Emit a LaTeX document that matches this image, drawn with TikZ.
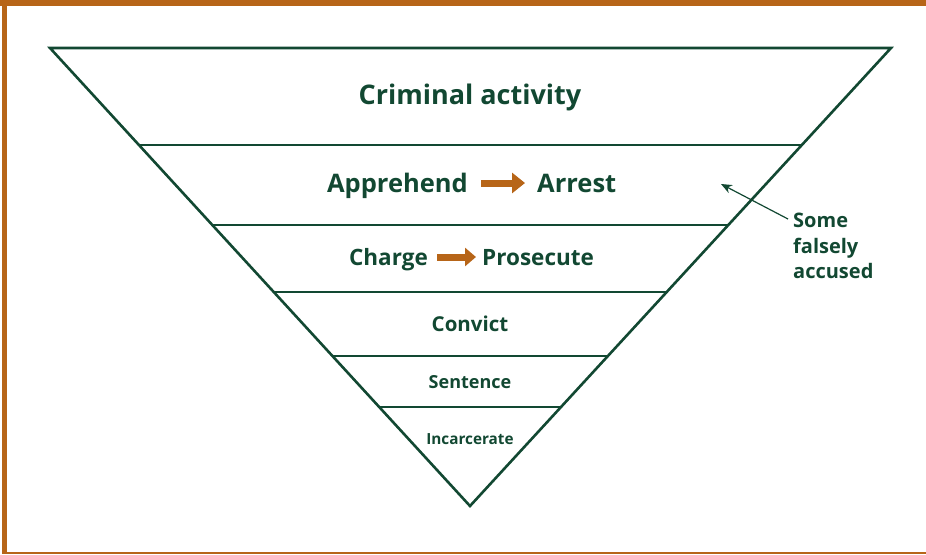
\documentclass[tikz,border=0pt]{standalone}
\usepackage{fontspec}
\setmainfont{Open Sans}
\usepackage{tikz}
\usetikzlibrary{arrows.meta, calc}

\definecolor{funnelgreen}{RGB}{18,72,50}
\definecolor{rustorange}{RGB}{183,101,24}

\tikzset{
  stage/.style={font=\bfseries, text=funnelgreen, inner sep=0pt, anchor=base},
  stepline/.style={draw=funnelgreen, line width=1.4pt},
  orangearrow/.style={draw=rustorange, line width=7pt, -{Triangle[width=20pt,length=13pt]}, shorten <=13pt, shorten >=12pt}
}

\begin{document}
\begin{tikzpicture}[x=1pt, y=-1pt]
  \useasboundingbox (0,0) rectangle (926,554);
  % frame
  \fill[rustorange] (0,0) rectangle (926,6);
  \fill[rustorange] (2,0) rectangle (7,554);
  \draw[rustorange, line width=1.2pt] (2,553) -- (926,553);

  % funnel
  \coordinate (tl) at (50,48);
  \coordinate (tr) at (891,48);
  \coordinate (ap) at (470,506);
  \draw[funnelgreen, line width=2.6pt, line join=miter] (tl) -- (tr) -- (ap) -- cycle;
  \foreach \t in {0.2118, 0.3865, 0.5328, 0.6725, 0.7838}
    \draw[stepline] ($(tl)!\t!(ap)$) -- ($(tr)!\t!(ap)$);

  % stages
  \node[stage, font=\bfseries\fontsize{27}{31}\selectfont] (crime) at (470,104) {Criminal activity};
  \node[stage, font=\bfseries\fontsize{25.5}{29}\selectfont, anchor=base east] (appr) at (468,192) {Apprehend};
  \node[stage, font=\bfseries\fontsize{25.5}{29}\selectfont, anchor=base west] (arr) at (537,192) {Arrest};
  \node[stage, font=\bfseries\fontsize{22.5}{26}\selectfont, anchor=base east] (chg) at (428,265) {Charge};
  \node[stage, font=\bfseries\fontsize{22.5}{26}\selectfont, anchor=base west] (pros) at (482,265) {Prosecute};
  \node[stage, font=\bfseries\fontsize{20.5}{24}\selectfont] (conv) at (470,331) {Convict};
  \node[stage, font=\bfseries\fontsize{18}{21}\selectfont] (sent) at (470,388) {Sentence};
  \node[stage, font=\bfseries\fontsize{15.3}{18}\selectfont] (inc) at (470,444) {Incarcerate};

  \draw[orangearrow] (appr.east |- 0,183) -- (arr.west |- 0,183);
  \draw[orangearrow, -{Triangle[width=18pt,length=11pt]}, shorten <=9pt, shorten >=6pt] (chg.east |- 0,257) -- (pros.west |- 0,257);

  % note
  \node[font=\bfseries\fontsize{20}{25.5}\selectfont, text=funnelgreen, align=left, anchor=north west, inner sep=0pt] (note) at (793,213) {Some\\falsely\\accused};
  \coordinate (hit) at (721,184);
  \draw[funnelgreen, line width=1.2pt, -{Stealth[length=11pt,width=9pt]}] (note.north west) ++(-5,6) -- (hit);
\end{tikzpicture}
\end{document}
